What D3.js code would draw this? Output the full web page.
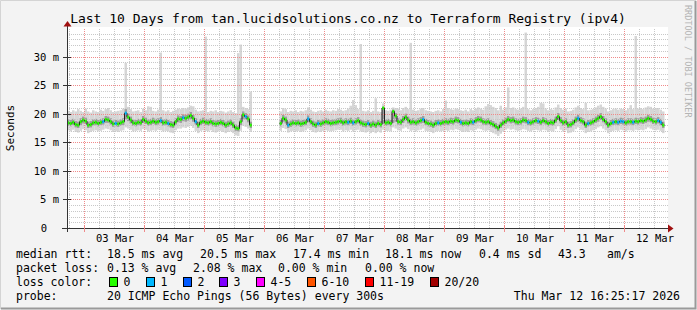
<!DOCTYPE html>
<html>
<head>
<meta charset="utf-8">
<script src="https://cdn.jsdelivr.net/npm/d3@7"></script>
<style>
  body { margin: 0; background: #f3f3f3; }
  text { font-family: "DejaVu Sans Mono", monospace; fill: #000; white-space: pre; }
</style>
</head>
<body>
<script>
//time window of the graph (10 days, one consolidated point per hour)
var startTime = Date.UTC(2026, 2, 2, 17, 12),
    endTime = Date.UTC(2026, 2, 12, 17, 12),
    stepMs = 3600 * 1000;

//median rtt per hour (ms), null where no data was collected
var median = [
  18.4,18.3,18.5,18.1,18.0,18.6,18.9,18.7,18.0,18.1,
  18.4,18.5,18.3,18.5,18.6,19.0,18.9,18.6,18.2,18.3,
  18.2,18.4,18.6,20.1,19.4,18.9,18.4,18.3,18.5,18.4,
  19.0,18.7,18.4,18.5,18.7,18.5,18.6,18.8,18.4,18.5,
  18.3,18.1,18.0,18.6,19.1,19.0,19.3,19.2,19.4,19.7,
  19.2,18.6,18.0,18.5,18.7,18.5,18.4,18.6,18.3,18.2,
  18.3,18.5,18.3,18.0,18.2,18.4,18.0,17.5,17.4,18.6,
  19.8,19.5,19.1,18.0,
  null,null,null,null,null,null,null,null,null,null,null,
  18.3,19.2,18.9,18.0,18.2,18.4,18.3,18.4,18.2,18.3,
  18.5,19.1,18.6,18.2,18.0,18.3,18.2,18.4,18.6,18.5,
  18.3,18.4,18.5,18.6,18.7,18.4,18.6,18.5,18.7,18.4,
  18.6,18.8,18.4,18.2,18.1,18.3,18.0,18.2,18.0,18.3,
  18.1,21.0,18.4,18.5,18.3,20.4,19.6,18.6,18.5,19.0,
  19.4,18.9,18.5,18.6,18.4,18.6,18.8,19.0,18.5,18.3,
  18.2,18.0,18.3,18.4,18.3,18.5,18.6,18.5,18.7,18.6,
  18.9,18.8,18.5,18.3,18.4,18.3,18.6,18.5,18.8,19.0,
  18.9,18.6,18.5,18.6,18.3,18.1,17.8,17.5,18.0,18.4,
  18.7,19.0,18.8,18.9,18.6,18.5,18.6,18.9,18.8,18.5,
  18.4,18.6,18.8,18.7,18.5,18.8,18.6,18.3,18.5,18.4,
  18.9,19.5,18.8,18.4,18.6,18.0,18.1,18.4,18.9,19.2,
  18.8,18.6,18.0,18.3,18.4,18.6,18.9,19.2,19.5,19.0,
  18.6,18.0,18.3,18.5,18.6,18.5,18.7,18.6,18.4,18.6,
  18.6,18.5,18.7,18.6,18.8,18.7,18.9,19.2,19.0,18.7,
  18.6,18.8,18.5,18.0
];

//fastest ping of each hour (ms)
var pingLo = [
  17.1,16.9,17.2,16.8,16.7,17.0,17.3,17.1,16.6,16.8,
  17.0,17.1,16.9,17.0,17.2,17.4,17.3,17.1,16.8,16.9,
  16.8,17.0,17.1,17.6,17.4,17.2,16.9,17.0,17.1,17.0,
  17.3,17.2,16.9,17.0,17.1,17.0,17.2,17.1,16.9,17.0,
  16.9,16.7,16.6,17.1,17.4,17.4,17.6,17.5,17.7,17.9,
  17.5,17.0,16.6,17.0,17.1,17.0,16.9,17.1,16.8,16.7,
  16.9,17.0,16.8,16.6,16.8,16.9,16.6,16.2,16.1,17.0,
  17.9,17.7,17.4,16.8,
  null,null,null,null,null,null,null,null,null,null,null,
  17.0,17.5,17.3,16.7,16.9,17.0,16.9,17.0,16.8,16.9,
  17.1,17.4,17.1,16.8,16.7,16.9,16.8,17.0,17.1,17.0,
  16.9,17.0,17.1,17.2,17.2,16.9,17.1,17.0,17.2,16.9,
  17.1,17.2,16.9,16.8,16.7,16.9,16.6,16.8,16.6,16.9,
  16.7,17.2,17.0,17.0,16.9,17.6,17.4,17.1,17.0,17.4,
  17.6,17.3,17.0,17.1,16.9,17.1,17.2,17.4,17.0,16.9,
  16.8,16.6,16.9,17.0,16.9,17.0,17.1,17.0,17.2,17.1,
  17.3,17.2,17.0,16.8,16.9,16.8,17.1,17.0,17.2,17.4,
  17.3,17.1,17.0,17.1,16.8,16.6,16.4,16.1,16.5,16.9,
  17.2,17.4,17.2,17.3,17.1,17.0,17.1,17.3,17.2,17.0,
  16.9,17.1,17.2,17.1,17.0,17.2,17.1,16.8,17.0,16.9,
  17.3,17.8,17.2,16.9,17.1,16.6,16.7,16.9,17.3,17.6,
  17.2,17.1,16.6,16.8,16.9,17.1,17.3,17.6,17.8,17.4,
  17.1,16.6,16.8,17.0,17.1,17.0,17.2,17.1,16.9,17.1,
  17.1,17.0,17.2,17.1,17.2,17.1,17.3,17.6,17.4,17.2,
  17.1,17.2,17.0,16.6
];

//slowest ping of each hour (ms)
var pingHi = [
  20.5,20.3,20.6,20.4,20.8,20.5,20.3,20.9,20.4,20.2,
  20.6,20.4,20.3,20.7,20.5,20.8,21.0,20.6,20.3,20.4,
  20.5,20.6,20.9,28.9,21.2,20.8,20.4,20.5,20.6,20.3,
  20.9,20.6,21.3,21.2,20.5,20.4,20.7,30.7,20.6,20.4,
  20.6,20.3,20.5,20.7,20.9,20.8,21.0,20.9,21.1,21.4,
  21.3,20.7,20.4,20.5,20.6,33.5,20.3,20.5,20.4,20.6,
  20.3,20.5,20.4,20.2,20.4,20.6,20.3,20.1,30.6,32.1,
  21.2,21.0,20.8,23.9,
  null,null,null,null,null,null,null,null,null,null,null,
  20.4,21.0,20.8,20.3,20.5,20.4,20.6,20.3,20.5,20.4,
  20.6,21.1,20.7,20.4,20.3,20.5,20.6,20.4,20.7,20.5,
  20.4,20.6,20.5,20.8,20.7,20.5,20.6,20.9,21.4,22.4,
  21.5,20.8,32.2,20.5,20.4,20.6,20.3,20.5,22.7,20.4,
  20.3,21.8,20.6,20.5,20.7,21.1,21.0,20.9,20.6,21.0,
  21.2,20.8,32.4,20.7,20.5,20.6,20.9,21.0,20.6,20.5,
  20.4,20.3,20.5,20.6,20.4,20.8,22.3,21.0,20.8,20.7,
  20.9,20.8,20.6,20.5,20.7,20.4,20.8,20.6,20.9,21.1,
  20.9,20.7,21.3,21.7,21.5,21.2,21.0,20.6,21.4,20.7,
  21.1,24.6,21.0,21.1,20.8,20.7,20.9,21.2,34.2,20.8,
  20.6,20.8,21.0,21.2,21.9,21.8,20.9,20.6,20.8,20.7,
  21.1,21.6,21.0,20.7,20.9,20.4,20.5,20.7,21.1,21.4,
  21.0,20.8,21.9,20.6,20.7,20.8,21.1,21.4,21.6,21.2,
  20.9,20.4,20.6,20.8,20.9,20.7,20.9,20.8,20.6,20.9,
  21.5,20.8,33.6,20.9,21.0,20.8,21.1,21.3,21.2,20.9,
  21.0,21.0,20.7,20.4
];

//lower and upper quartile of each hour's pings (ms)
var q25 = [
  17.9,17.8,18.0,17.6,17.5,18.0,18.3,18.2,17.5,17.6,
  17.9,18.0,17.8,18.0,18.1,18.4,18.4,18.1,17.7,17.8,
  17.7,17.9,18.0,19.0,18.7,18.3,17.9,17.8,18.0,17.9,
  18.4,18.2,17.9,18.0,18.2,18.0,18.1,18.3,17.9,18.0,
  17.8,17.6,17.5,18.1,18.5,18.4,18.7,18.6,18.8,19.0,
  18.6,18.1,17.5,18.0,18.2,18.0,17.9,18.1,17.8,17.7,
  17.8,18.0,17.8,17.5,17.7,17.9,17.5,17.0,16.9,18.0,
  19.1,18.9,18.5,17.5,
  null,null,null,null,null,null,null,null,null,null,null,
  17.8,18.6,18.3,17.5,17.7,17.9,17.8,17.9,17.7,17.8,
  18.0,18.5,18.1,17.7,17.5,17.8,17.7,17.9,18.1,18.0,
  17.8,17.9,18.0,18.1,18.2,17.9,18.1,18.0,18.2,17.9,
  18.1,18.3,17.9,17.7,17.6,17.8,17.5,17.7,17.5,17.8,
  17.6,18.2,17.9,18.0,17.8,18.4,18.6,18.1,18.0,18.4,
  18.8,18.3,18.0,18.1,17.9,18.1,18.3,18.4,18.0,17.8,
  17.7,17.5,17.8,17.9,17.8,18.0,18.1,18.0,18.2,18.1,
  18.4,18.3,18.0,17.8,17.9,17.8,18.1,18.0,18.3,18.5,
  18.4,18.1,18.0,18.1,17.8,17.6,17.3,17.0,17.5,17.9,
  18.2,18.5,18.3,18.4,18.1,18.0,18.1,18.4,18.3,18.0,
  17.9,18.1,18.3,18.2,18.0,18.3,18.1,17.8,18.0,17.9,
  18.4,18.9,18.3,17.9,18.1,17.5,17.6,17.9,18.4,18.6,
  18.3,18.1,17.5,17.8,17.9,18.1,18.4,18.6,18.9,18.5,
  18.1,17.5,17.8,18.0,18.1,18.0,18.2,18.1,17.9,18.1,
  18.1,18.0,18.2,18.1,18.3,18.2,18.4,18.6,18.5,18.2,
  18.1,18.3,18.0,17.5
];
var q75 = [
  19.0,18.9,19.1,18.7,18.6,19.2,19.5,19.3,18.6,18.7,
  19.0,19.1,18.9,19.1,19.2,19.6,19.5,19.2,18.8,18.9,
  18.8,19.0,19.2,20.8,20.0,19.5,19.0,18.9,19.1,19.0,
  19.6,19.3,19.0,19.1,19.3,19.1,19.2,19.4,19.0,19.1,
  18.9,18.7,18.6,19.2,19.7,19.6,19.9,19.8,20.0,20.3,
  19.8,19.2,18.6,19.1,19.3,19.1,19.0,19.2,18.9,18.8,
  18.9,19.1,18.9,18.6,18.8,19.0,18.6,18.1,18.0,19.2,
  20.4,20.1,19.7,18.6,
  null,null,null,null,null,null,null,null,null,null,null,
  18.9,19.8,19.5,18.6,18.8,19.0,18.9,19.0,18.8,18.9,
  19.1,19.7,19.2,18.8,18.6,18.9,18.8,19.0,19.2,19.1,
  18.9,19.0,19.1,19.2,19.3,19.0,19.2,19.1,19.3,19.0,
  19.2,19.4,19.0,18.8,18.7,18.9,18.6,18.8,18.6,18.9,
  18.7,21.2,19.0,19.1,18.9,20.7,20.1,19.2,19.1,19.6,
  20.0,19.5,19.1,19.2,19.0,19.2,19.4,19.6,19.1,18.9,
  18.8,18.6,18.9,19.0,18.9,19.1,19.2,19.1,19.3,19.2,
  19.5,19.4,19.1,18.9,19.0,18.9,19.2,19.1,19.4,19.6,
  19.5,19.2,19.1,19.2,18.9,18.7,18.4,18.1,18.6,19.0,
  19.3,19.6,19.4,19.5,19.2,19.1,19.2,19.5,19.4,19.1,
  19.0,19.2,19.4,19.3,19.1,19.4,19.2,18.9,19.1,19.0,
  19.5,20.1,19.4,19.0,19.2,18.6,18.7,19.0,19.5,19.8,
  19.4,19.2,18.6,18.9,19.0,19.2,19.5,19.8,20.1,19.6,
  19.2,18.6,18.9,19.1,19.2,19.1,19.3,19.2,19.0,19.2,
  19.2,19.1,19.3,19.2,19.4,19.3,19.5,19.8,19.6,19.3,
  19.2,19.4,19.1,18.6
];

//hours in which 1 of 20 pings was lost
var lossHours = [14,19,23,37,40,46,51,71,88,96,100,112,114,120,142,148,157,162,
                 184,188,204,208,218,220,221,222,226,236,237];

//loss colour legend
var lossLabels = ["0", "1", "2", "3", "4-5", "6-10", "11-19", "20/20"];
var lossColors = ["#26ff00", "#00b8ff", "#0059ff", "#7e00ff", "#ff00ff", "#ff5500", "#ff0000", "#a10000"];
var lossLabelX = [109, 146, 183, 219, 256, 307, 365, 430];

//y axis ticks (ms)
var yTicks = [0, 5, 10, 15, 20, 25, 30];

//legend text
var rttStats = ["18.5 ms avg", "20.5 ms max", "17.4 ms min", "18.1 ms now", "0.4 ms sd", "43.3", "am/s"];
var rttStatX = [107, 200, 293, 385, 479, 558, 607];
var lossStats = ["0.13 % avg", "2.08 % max", "0.00 % min", "0.00 % now"];
var lossStatX = [107, 193, 278, 365];
var probeText = "20 ICMP Echo Pings (56 Bytes) every 300s";
var stampText = "Thu Mar 12 16:25:17 2026";
var titleText = "Last 10 Days from tan.lucidsolutions.co.nz to Terraform Registry (ipv4)";

var width = 697, height = 310;

var svg = d3.select("body").append("svg")
    .attr("width", width)
    .attr("height", height);

//background with rrdtool style shading
svg.append("rect").attr("width", width).attr("height", height).attr("fill", "#f3f3f3");
svg.append("path").attr("d", "M0.5,309V0.5H696").attr("fill", "none").attr("stroke", "#d4d4d4");
svg.append("path").attr("d", "M1,308.5H695.5V1").attr("fill", "none").attr("stroke", "#9a9a9a").attr("stroke-width", 2);

var x = d3.scaleUtc()
    .domain([new Date(startTime), new Date(endTime)])
    .range([67, 667]);

var y = d3.scaleLinear()
    .domain([0, 35])
    .range([228, 28]);

//canvas
svg.append("rect")
    .attr("x", 67).attr("y", y(35) - 1)
    .attr("width", 601).attr("height", y(0) - y(35) + 1)
    .attr("fill", "#fff");

var pts = median.map(function(m, i){
    return {
        t: new Date(startTime + i * stepMs),
        t1: new Date(startTime + (i + 1) * stepMs),
        med: m, lo: pingLo[i], hi: pingHi[i], q25: q25[i], q75: q75[i],
        loss: lossHours.indexOf(i) >= 0 ? 1 : 0
    };
});
var valid = pts.filter(function(d){ return d.med != null; });

//smoke: full spread of pings
svg.append("g").selectAll("rect")
    .data(valid).join("rect")
    .attr("x", function(d){ return x(d.t); })
    .attr("width", function(d){ return x(d.t1) - x(d.t); })
    .attr("y", function(d){ return y(d.hi); })
    .attr("height", function(d){ return y(d.lo) - y(d.hi); })
    .attr("fill", "#d6d6d6");

//smoke: inner quartiles
svg.append("g").selectAll("rect")
    .data(valid).join("rect")
    .attr("x", function(d){ return x(d.t); })
    .attr("width", function(d){ return x(d.t1) - x(d.t); })
    .attr("y", function(d){ return y(d.q75); })
    .attr("height", function(d){ return y(d.q25) - y(d.q75); })
    .attr("fill", "#9e9e9e");

//grid
var grid = svg.append("g").attr("shape-rendering", "crispEdges");
var minorY = y.ticks(35).filter(function(v){ return v % 5 !== 0; });
var majorY = yTicks.filter(function(v){ return v > 0; });
var minorX = x.ticks(d3.utcHour.every(6)).filter(function(t){ return t.getUTCHours() !== 0; });
var majorX = x.ticks(d3.utcDay.every(1));

grid.selectAll(".minorY").data(minorY).join("line")
    .attr("x1", 67).attr("x2", 668)
    .attr("y1", function(d){ return Math.round(y(d)) + 0.5; })
    .attr("y2", function(d){ return Math.round(y(d)) + 0.5; })
    .attr("stroke", "#c8c8c8").attr("stroke-dasharray", "1,1");
grid.selectAll(".minorX").data(minorX).join("line")
    .attr("x1", function(d){ return Math.round(x(d)) + 0.5; })
    .attr("x2", function(d){ return Math.round(x(d)) + 0.5; })
    .attr("y1", y(0)).attr("y2", y(35))
    .attr("stroke", "#c8c8c8").attr("stroke-dasharray", "1,1");
grid.selectAll(".majorY").data(majorY).join("line")
    .attr("x1", 67).attr("x2", 668)
    .attr("y1", function(d){ return Math.round(y(d)) + 0.5; })
    .attr("y2", function(d){ return Math.round(y(d)) + 0.5; })
    .attr("stroke", "#f08a8a").attr("stroke-dasharray", "1,1");
grid.selectAll(".majorX").data(majorX).join("line")
    .attr("x1", function(d){ return Math.round(x(d)) + 0.5; })
    .attr("x2", function(d){ return Math.round(x(d)) + 0.5; })
    .attr("y1", y(0)).attr("y2", y(35))
    .attr("stroke", "#f08a8a").attr("stroke-dasharray", "1,1");

//median line: thin dark step line, then thick loss coloured segments
var stepPts = [];
pts.forEach(function(d){
    stepPts.push({t: d.t, v: d.med});
    stepPts.push({t: d.t1, v: d.med});
});
var line = d3.line()
    .defined(function(d){ return d.v != null; })
    .x(function(d){ return x(d.t); })
    .y(function(d){ return y(d.v); });
svg.append("path")
    .datum(stepPts)
    .attr("d", line)
    .attr("fill", "none")
    .attr("stroke", "#202020")
    .attr("stroke-width", 1);

svg.append("g").selectAll("rect")
    .data(valid).join("rect")
    .attr("x", function(d){ return x(d.t) + 0.3; })
    .attr("width", function(d){ return x(d.t1) - x(d.t) - 0.6; })
    .attr("y", function(d){ return y(d.med) - 1.5; })
    .attr("height", 3)
    .attr("fill", function(d){ return lossColors[d.loss]; });

//axes
var axisColor = "#333";
svg.append("line").attr("x1", 62).attr("x2", 669).attr("y1", 228.5).attr("y2", 228.5).attr("stroke", axisColor);
svg.append("line").attr("x1", 67.5).attr("x2", 67.5).attr("y1", 232).attr("y2", 24).attr("stroke", axisColor);
svg.append("path").attr("d", "M63.5,26.5L71.5,26.5L67.5,21Z").attr("fill", "#a01010");
svg.append("path").attr("d", "M668,224.5L668,232.5L673.5,228.5Z").attr("fill", "#a01010");

svg.append("g").selectAll("line").data(yTicks).join("line")
    .attr("x1", 63).attr("x2", 71)
    .attr("y1", function(d){ return Math.round(y(d)) + 0.5; })
    .attr("y2", function(d){ return Math.round(y(d)) + 0.5; })
    .attr("stroke", axisColor);
svg.append("g").selectAll("line").data(majorX).join("line")
    .attr("x1", function(d){ return Math.round(x(d)) + 0.5; })
    .attr("x2", function(d){ return Math.round(x(d)) + 0.5; })
    .attr("y1", 226).attr("y2", 232)
    .attr("stroke", "#f08a8a");

//y labels
svg.append("g").selectAll("text").data(yTicks).join("text")
    .attr("x", function(d){ return d === 0 ? 47 : 59; })
    .attr("y", function(d){ return y(d) + 4; })
    .attr("text-anchor", "end")
    .style("font-size", "10.5px")
    .text(function(d){ return d === 0 ? "0" : d + " m"; });

//x labels at noon of each day
var noon = d3.utcDay.range(new Date(Date.UTC(2026, 2, 3)), new Date(Date.UTC(2026, 2, 13)))
    .map(function(d){ return d3.utcHour.offset(d, 12); });
var dayFmt = d3.utcFormat("%d %b");
svg.append("g").selectAll("text").data(noon).join("text")
    .attr("x", function(d){ return x(d) + 1; })
    .attr("y", 242)
    .attr("text-anchor", "middle")
    .style("font-size", "10.5px")
    .text(function(d){ return dayFmt(d); });

//title and axis title
svg.append("text")
    .attr("x", 348).attr("y", 23)
    .attr("text-anchor", "middle")
    .style("font-size", "13px")
    .text(titleText);
svg.append("text")
    .attr("transform", "translate(14," + (y(17.5)) + ") rotate(-90)")
    .attr("text-anchor", "middle")
    .style("font-size", "11px")
    .text("Seconds");
svg.append("text")
    .attr("transform", "translate(685,5) rotate(90)")
    .style("font-size", "8.5px")
    .style("fill", "#b4b4b4")
    .text("RRDTOOL / TOBI OETIKER");

//legend
var leg = svg.append("g").style("font-size", "11.5px");
leg.append("text").attr("x", 16).attr("y", 258).text("median rtt:");
leg.selectAll(".rtt").data(rttStats).join("text")
    .attr("x", function(d, i){ return rttStatX[i]; }).attr("y", 258).text(function(d){ return d; });
leg.append("text").attr("x", 16).attr("y", 272).text("packet loss:");
leg.selectAll(".pl").data(lossStats).join("text")
    .attr("x", function(d, i){ return lossStatX[i]; }).attr("y", 272).text(function(d){ return d; });
leg.append("text").attr("x", 16).attr("y", 286).text("loss color:");
leg.selectAll("rect").data(lossLabels).join("rect")
    .attr("x", function(d, i){ return lossLabelX[i] + 0.5; })
    .attr("y", 277.5)
    .attr("width", 8).attr("height", 9)
    .attr("fill", function(d, i){ return lossColors[i]; })
    .attr("stroke", "#000");
leg.selectAll(".lc").data(lossLabels).join("text")
    .attr("x", function(d, i){ return lossLabelX[i] + 14.5; })
    .attr("y", 286)
    .text(function(d){ return d; });
leg.append("text").attr("x", 16).attr("y", 300).text("probe:");
leg.append("text").attr("x", 107).attr("y", 300).text(probeText);
leg.append("text").attr("x", 680).attr("y", 300).attr("text-anchor", "end").text(stampText);
</script>
</body>
</html>
